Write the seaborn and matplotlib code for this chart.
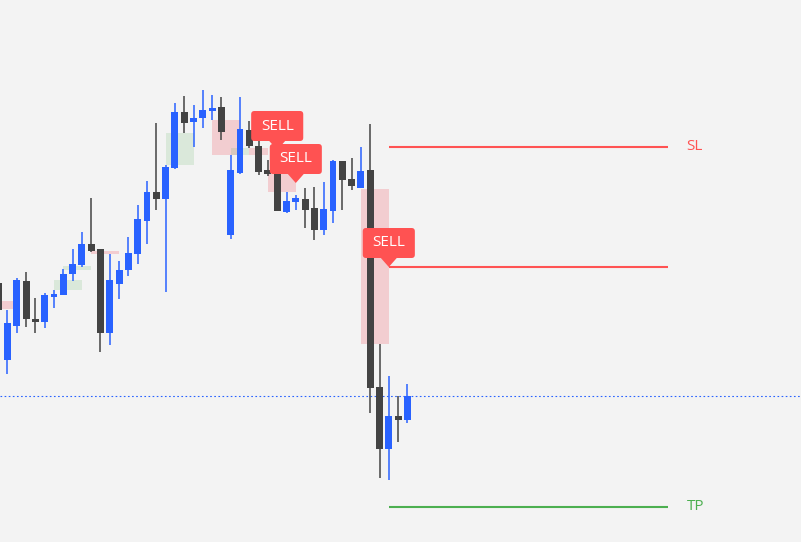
import numpy as np
import pandas as pd
import matplotlib
matplotlib.use("Agg")
import matplotlib.pyplot as plt
import seaborn as sns
from matplotlib.patches import FancyBboxPatch, Polygon, Rectangle

# ==============================
# Data
# ==============================

opens = [259, 182, 216, 261, 223, 220, 245, 247, 268, 277, 298, 293, 209, 258, 272,
         288, 321, 350, 343, 374, 430, 420, 424, 431, 435, 307, 369, 412, 396, 372,
         370, 330, 340, 343, 334, 312, 331, 381, 363, 354, 372, 155, 93, 126, 122]
highs = [262, 232, 264, 270, 244, 249, 252, 273, 293, 310, 344, 293, 288, 281, 305,
         337, 361, 419, 377, 439, 446, 437, 452, 447, 445, 387, 445, 421, 413, 382,
         372, 350, 347, 354, 355, 360, 382, 381, 384, 395, 418, 198, 166, 146, 158]
lows = [227, 168, 209, 215, 209, 214, 234, 247, 261, 275, 290, 190, 197, 243, 266,
        278, 298, 332, 250, 373, 409, 395, 414, 422, 402, 303, 368, 394, 367, 366,
        331, 329, 332, 314, 302, 307, 319, 332, 352, 354, 129, 64, 62, 100, 119]
closes = [232, 219, 262, 223, 220, 247, 248, 268, 278, 298, 291, 209, 262, 272, 289,
          323, 350, 343, 375, 430, 419, 424, 432, 434, 410, 372, 413, 396, 370, 368,
          331, 341, 344, 332, 312, 333, 381, 362, 356, 371, 154, 93, 126, 122, 146]

# supply / demand zones: start, end, low, high, kind
zone_start = [-1.4, 6, 7, 10, 18, 23, 25, 27, 29, 39]
zone_end = [1.6, 9, 10, 13, 21, 26, 27, 29, 32, 42]
zone_low = [233, 252, 272, 288, 377, 387, 387, 387, 350, 198]
zone_high = [241, 262, 276, 291, 409, 422, 394, 394, 368, 353]
zone_kind = ["sell", "buy", "buy", "sell", "buy", "sell", "buy", "sell", "sell", "sell"]

# sell signals: candle index of the pointer, price at the tip
sell_x = [30, 32, 42]
sell_tip = [392, 359, 275]

# trade levels
level_start = 42
level_end = 72
sl_price = 395
entry_price = 275
tp_price = 35
last_price = 146

# ==============================
# Style
# ==============================

BG = "#f3f3f3"
UP = "#2962ff"
DOWN = "#434343"
RED = "#ff5252"
GREEN = "#4caf50"

sns.set_theme(style="white", rc={"axes.facecolor": BG, "figure.facecolor": BG})
plt.rcParams["font.family"] = ["Open Sans", "DejaVu Sans"]

df = pd.DataFrame({"open": opens, "high": highs, "low": lows, "close": closes})
df["idx"] = np.arange(len(df))
df["up"] = df["close"] >= df["open"]
df["color"] = np.where(df["up"], UP, DOWN)
df["bottom"] = df[["open", "close"]].min(axis=1)
df["height"] = (df["close"] - df["open"]).abs().clip(lower=2)

fig = plt.figure(figsize=(8.01, 5.42), dpi=100)
ax = fig.add_axes([0, 0, 1, 1])
ax.set_xlim(0.194, 86.32)
ax.set_ylim(0, 542)
ax.set_axis_off()

# aspect to keep rounded corners round
px_x = 801 / (86.32 - 0.194)
px_y = 542 / 542
aspect = px_x / px_y

# ==============================
# Zones
# ==============================

for x0, x1, lo, hi, kind in zip(zone_start, zone_end, zone_low, zone_high, zone_kind):
    if kind == "sell":
        ax.add_patch(Rectangle((x0, lo), x1 - x0, hi - lo, facecolor="#f23645",
                               alpha=0.2, lw=0, zorder=1))
    else:
        ax.add_patch(Rectangle((x0, lo), x1 - x0, hi - lo, facecolor=GREEN,
                               alpha=0.15, lw=0, zorder=1))

# ==============================
# Candles
# ==============================

ax.vlines(df["idx"], df["low"], df["high"], colors=df["color"], lw=1.1, zorder=3)
ax.bar(df["idx"], df["height"], bottom=df["bottom"], width=0.75,
       color=df["color"], lw=0, zorder=4)

# last price line
ax.axhline(last_price, color=UP, lw=0.8, dashes=(1.5, 2.2), zorder=2)

# ==============================
# Levels
# ==============================

ax.hlines(sl_price, level_start, level_end, color=RED, lw=1.5, zorder=2)
ax.hlines(entry_price, level_start, level_end, color=RED, lw=1.5, zorder=2)
ax.hlines(tp_price, level_start, level_end, color=GREEN, lw=1.5, zorder=2)

ax.text(74.0, sl_price, "SL", color=RED, fontsize=11, va="center", ha="left")
ax.text(74.0, tp_price, "TP", color=GREEN, fontsize=11, va="center", ha="left")

# ==============================
# SELL labels
# ==============================

for i, (xc, tip) in enumerate(zip(sell_x, sell_tip)):
    z = 6 + i
    box = FancyBboxPatch((xc - 2.8, tip + 9), 5.6, 30,
                         boxstyle="round,pad=0,rounding_size=0.35",
                         mutation_aspect=aspect,
                         facecolor=RED, edgecolor="none", zorder=z)
    ax.add_patch(box)
    tri = Polygon([[xc - 0.95, tip + 10], [xc + 0.95, tip + 10], [xc, tip]],
                  closed=True, facecolor=RED, edgecolor="none", zorder=z)
    ax.add_patch(tri)
    ax.text(xc, tip + 24, "SELL", color="white", fontsize=11,
            ha="center", va="center", zorder=z + 0.5)

fig.savefig("out.png", dpi=100, facecolor=BG)
